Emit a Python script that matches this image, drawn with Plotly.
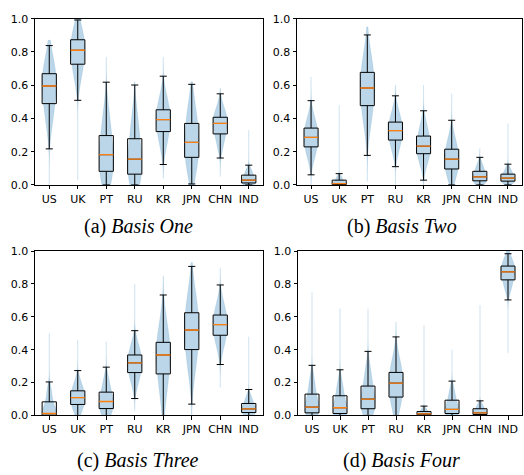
import plotly.graph_objects as go

categories = ["US", "UK", "PT", "RU", "KR", "JPN", "CHN", "IND"]
positions = [1, 2, 3, 4, 5, 6, 7, 8]
y_ticks = [0.0, 0.2, 0.4, 0.6, 0.8, 1.0]
y_tick_labels = ["0.0", "0.2", "0.4", "0.6", "0.8", "1.0"]
captions = ["(a) <i>Basis One</i>", "(b) <i>Basis Two</i>",
            "(c) <i>Basis Three</i>", "(d) <i>Basis Four</i>"]

# ---- Basis One ----
one_low = [0.217, 0.509, 0.0, 0.0, 0.123, 0.006, 0.162, 0.0]
one_q1 = [0.489, 0.726, 0.082, 0.065, 0.321, 0.166, 0.307, 0.012]
one_med = [0.595, 0.810, 0.182, 0.155, 0.393, 0.256, 0.370, 0.029]
one_q3 = [0.669, 0.873, 0.297, 0.278, 0.452, 0.370, 0.407, 0.059]
one_high = [0.838, 0.992, 0.618, 0.601, 0.654, 0.605, 0.548, 0.119]
one_min = [0.0, 0.03, 0.0, 0.0, 0.04, 0.0, 0.05, 0.0]
one_max = [0.87, 1.0, 0.77, 0.62, 0.77, 0.62, 0.58, 0.33]
one_samples = [
    [0.38, 0.489, 0.562, 0.618, 0.669, 0.75],
    [0.64, 0.726, 0.784, 0.83, 0.873, 0.94],
    [0.03, 0.082, 0.15, 0.215, 0.297, 0.42],
    [0.02, 0.065, 0.125, 0.19, 0.278, 0.40],
    [0.24, 0.321, 0.37, 0.413, 0.452, 0.53],
    [0.08, 0.166, 0.225, 0.29, 0.370, 0.47],
    [0.24, 0.307, 0.35, 0.383, 0.407, 0.46],
    [0.004, 0.012, 0.022, 0.038, 0.059, 0.09],
]

# ---- Basis Two ----
two_low = [0.061, 0.0, 0.178, 0.110, 0.029, 0.0, 0.0, 0.0]
two_q1 = [0.229, 0.002, 0.477, 0.270, 0.188, 0.096, 0.025, 0.023]
two_med = [0.286, 0.008, 0.583, 0.327, 0.233, 0.155, 0.049, 0.041]
two_q3 = [0.342, 0.029, 0.677, 0.378, 0.294, 0.215, 0.082, 0.065]
two_high = [0.507, 0.068, 0.902, 0.536, 0.446, 0.389, 0.166, 0.125]
two_min = [0.0, 0.0, 0.02, 0.0, 0.0, 0.0, 0.0, 0.0]
two_max = [0.65, 0.48, 0.95, 0.60, 0.60, 0.55, 0.22, 0.37]
two_samples = [
    [0.17, 0.229, 0.268, 0.305, 0.342, 0.40],
    [0.0005, 0.002, 0.005, 0.013, 0.029, 0.05],
    [0.37, 0.477, 0.55, 0.615, 0.677, 0.78],
    [0.21, 0.270, 0.31, 0.343, 0.378, 0.44],
    [0.13, 0.188, 0.219, 0.252, 0.294, 0.36],
    [0.045, 0.096, 0.136, 0.175, 0.215, 0.28],
    [0.01, 0.025, 0.04, 0.06, 0.082, 0.12],
    [0.01, 0.023, 0.035, 0.049, 0.065, 0.095],
]

# ---- Basis Three ----
three_low = [0.0, 0.0, 0.0, 0.103, 0.0, 0.069, 0.310, 0.0]
three_q1 = [0.002, 0.067, 0.042, 0.261, 0.253, 0.401, 0.488, 0.018]
three_med = [0.012, 0.109, 0.085, 0.320, 0.368, 0.520, 0.553, 0.040]
three_q3 = [0.083, 0.150, 0.142, 0.368, 0.445, 0.625, 0.611, 0.073]
three_high = [0.204, 0.273, 0.294, 0.516, 0.733, 0.907, 0.794, 0.158]
three_min = [0.0, 0.0, 0.0, 0.03, 0.0, 0.0, 0.17, 0.0]
three_max = [0.50, 0.46, 0.45, 0.80, 0.85, 0.93, 0.90, 0.48]
three_samples = [
    [0.0005, 0.002, 0.007, 0.03, 0.083, 0.15],
    [0.025, 0.067, 0.095, 0.123, 0.150, 0.20],
    [0.015, 0.042, 0.068, 0.105, 0.142, 0.21],
    [0.20, 0.261, 0.30, 0.337, 0.368, 0.43],
    [0.12, 0.253, 0.33, 0.395, 0.445, 0.57],
    [0.28, 0.401, 0.48, 0.555, 0.625, 0.74],
    [0.42, 0.488, 0.532, 0.573, 0.611, 0.68],
    [0.006, 0.018, 0.031, 0.051, 0.073, 0.11],
]

# ---- Basis Four ----
four_low = [0.0, 0.0, 0.0, 0.0, 0.0, 0.0, 0.0, 0.703]
four_q1 = [0.016, 0.012, 0.041, 0.112, 0.004, 0.012, 0.006, 0.825]
four_med = [0.051, 0.047, 0.100, 0.197, 0.010, 0.037, 0.016, 0.874]
four_q3 = [0.130, 0.120, 0.179, 0.262, 0.024, 0.093, 0.041, 0.909]
four_high = [0.305, 0.278, 0.390, 0.478, 0.057, 0.209, 0.089, 0.984]
four_min = [0.0, 0.0, 0.0, 0.0, 0.0, 0.0, 0.0, 0.38]
four_max = [0.75, 0.65, 0.65, 0.57, 0.55, 0.40, 0.67, 1.0]
four_samples = [
    [0.005, 0.016, 0.038, 0.075, 0.130, 0.21],
    [0.004, 0.012, 0.034, 0.07, 0.120, 0.19],
    [0.015, 0.041, 0.078, 0.125, 0.179, 0.27],
    [0.05, 0.112, 0.17, 0.218, 0.262, 0.34],
    [0.001, 0.004, 0.007, 0.014, 0.024, 0.04],
    [0.004, 0.012, 0.027, 0.055, 0.093, 0.15],
    [0.002, 0.006, 0.011, 0.025, 0.041, 0.065],
    [0.77, 0.825, 0.86, 0.886, 0.909, 0.95],
]

panels = [
    (one_low, one_q1, one_med, one_q3, one_high, one_min, one_max, one_samples),
    (two_low, two_q1, two_med, two_q3, two_high, two_min, two_max, two_samples),
    (three_low, three_q1, three_med, three_q3, three_high, three_min, three_max, three_samples),
    (four_low, four_q1, four_med, four_q3, four_high, four_min, four_max, four_samples),
]

W, H = 524, 475
# axes boxes in pixels: (left, right, top, bottom)
boxes_px = [(35, 263, 13, 184), (297, 522, 13, 184),
            (35, 263, 252, 421), (298, 522, 252, 421)]
caption_px = [(138, 227), (402, 227), (138, 467), (401, 467)]

VIOLIN_FILL = "rgba(31,119,180,0.3)"
VIOLIN_EDGE = "rgba(31,119,180,0.18)"
fig = go.Figure()
layout = dict(width=W, height=H, margin=dict(l=0, r=0, t=0, b=0),
              paper_bgcolor="white", plot_bgcolor="white", showlegend=False,
              boxmode="overlay", violinmode="overlay",
              font=dict(family="DejaVu Sans", size=11, color="black"))
annotations = []
for i, (low, q1, med, q3, high, vmin, vmax, samples) in enumerate(panels):
    xa = "x" if i == 0 else f"x{i+1}"
    ya = "y" if i == 0 else f"y{i+1}"
    fig.add_trace(go.Box(x=positions, q1=q1, median=med, q3=q3,
                         lowerfence=low, upperfence=high, width=0.5,
                         whiskerwidth=0.5, fillcolor="rgba(0,0,0,0)",
                         line=dict(color="black", width=1),
                         boxpoints=False, xaxis=xa, yaxis=ya, hoverinfo="skip"))
    fig.add_trace(go.Box(x=positions, q1=med, median=med, q3=med,
                         lowerfence=med, upperfence=med, width=0.5,
                         whiskerwidth=0, fillcolor="rgba(0,0,0,0)",
                         line=dict(color="#ff7f0e", width=1.3),
                         boxpoints=False, xaxis=xa, yaxis=ya, hoverinfo="skip"))
    for p, s, lo, hi in zip(positions, samples, vmin, vmax):
        fig.add_trace(go.Violin(x=[p] * len(s), y=s, width=0.5,
                                spanmode="manual", span=[lo, hi],
                                fillcolor=VIOLIN_FILL,
                                line=dict(color=VIOLIN_EDGE, width=0.6),
                                points=False, box_visible=False,
                                meanline_visible=False, hoverinfo="skip",
                                xaxis=xa, yaxis=ya))
    l, r, t, b = boxes_px[i]
    axkey = "xaxis" if i == 0 else f"xaxis{i+1}"
    aykey = "yaxis" if i == 0 else f"yaxis{i+1}"
    layout[axkey] = dict(domain=[l / W, r / W], range=[0.5, 8.5],
                         tickvals=positions, ticktext=categories,
                         showline=True, mirror=True, linecolor="black", linewidth=1,
                         ticks="outside", ticklen=3.5, tickwidth=0.8, tickcolor="black",
                         showgrid=False, zeroline=False, anchor=ya, fixedrange=True)
    layout[aykey] = dict(domain=[1 - b / H, 1 - t / H], range=[0, 1],
                         tickvals=y_ticks, ticktext=y_tick_labels,
                         showline=True, mirror=True, linecolor="black", linewidth=1,
                         ticks="outside", ticklen=3.5, tickwidth=0.8, tickcolor="black",
                         showgrid=False, zeroline=False, anchor=xa, fixedrange=True)
    cx, cy = caption_px[i]
    annotations.append(dict(text=captions[i], xref="paper", yref="paper",
                            x=cx / W, y=1 - cy / H, xanchor="center", yanchor="middle",
                            showarrow=False,
                            font=dict(family="Liberation Serif", size=20, color="black")))
layout["annotations"] = annotations
fig.update_layout(**layout)
fig.write_html("out.html", config={"displayModeBar": False},
               post_script="document.body.style.margin='0';document.body.style.overflow='hidden';")
